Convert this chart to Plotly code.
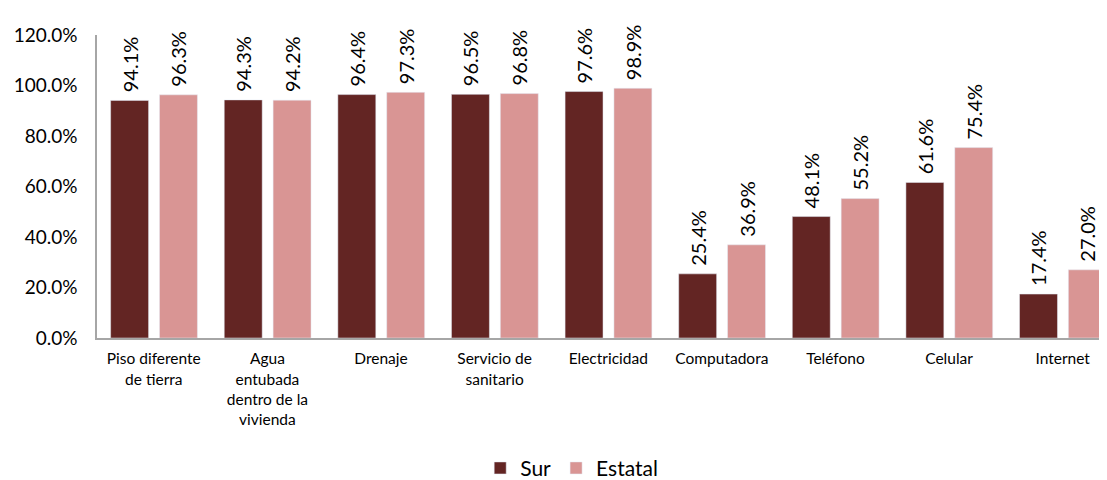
import plotly.graph_objects as go

categories = ["Piso diferente<br>de tierra", "Agua<br>entubada<br>dentro de la<br>vivienda", "Drenaje",
              "Servicio de<br>sanitario", "Electricidad", "Computadora", "Teléfono", "Celular", "Internet"]
sur = [94.1, 94.3, 96.4, 96.5, 97.6, 25.4, 48.1, 61.6, 17.4]
estatal = [96.3, 94.2, 97.3, 96.8, 98.9, 36.9, 55.2, 75.4, 27.0]

FONT = "Lato"
x = list(range(len(categories)))
NB = "\u00a0"

fig = go.Figure()
fig.add_trace(go.Bar(
    x=x, y=[v / 100 for v in sur], name="Sur", marker_color="#632523",
    width=0.334, offset=-0.38,
    text=[f"{NB}{v:.1f}%" for v in sur], textposition="outside", textangle=-90,
    constraintext="none",
    textfont=dict(family=FONT, size=20, color="#000000"), cliponaxis=False,
))
fig.add_trace(go.Bar(
    x=x, y=[v / 100 for v in estatal], name="Estatal", marker_color="#D99594",
    width=0.334, offset=0.05,
    text=[f"{NB}{v:.1f}%" for v in estatal], textposition="outside", textangle=-90,
    constraintext="none",
    textfont=dict(family=FONT, size=20, color="#000000"), cliponaxis=False,
))

fig.update_layout(
    width=1099, height=472,
    margin=dict(l=89, r=0, t=27, b=142, autoexpand=False),
    paper_bgcolor="white", plot_bgcolor="white",
    barmode="overlay",
    font=dict(family=FONT, color="#000000"),
    showlegend=True,
    legend=dict(orientation="h", x=0.47, xanchor="center", y=-0.43, yanchor="middle",
                font=dict(family=FONT, size=21), itemwidth=30, traceorder="normal"),
)
fig.update_xaxes(
    tickmode="array", tickvals=x, ticktext=categories,
    range=[-0.5, 8.39], showline=True, linecolor="#A6A6A6", linewidth=1.5,
    showgrid=False, ticks="", tickfont=dict(family=FONT, size=15.5), tickangle=0,
    automargin=False, ticklabelstandoff=6,
)
fig.update_yaxes(
    range=[0, 1.2], dtick=0.2, tickformat=".1%", showline=True, linecolor="#A6A6A6",
    linewidth=1.5, showgrid=False, ticks="", tickfont=dict(family=FONT, size=19),
    zeroline=False, automargin=False, ticklabelstandoff=14,
)

fig.write_html("out.html")
